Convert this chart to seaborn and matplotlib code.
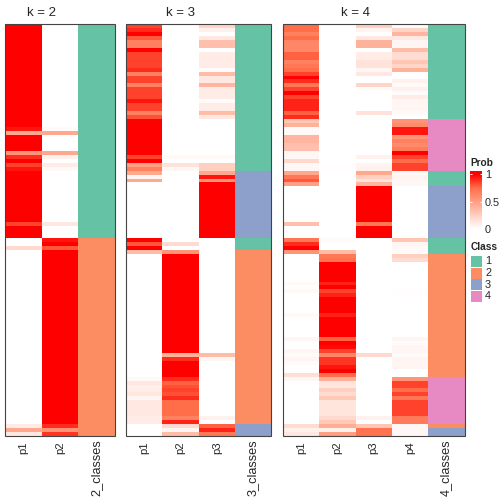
import numpy as np
import pandas as pd
import matplotlib
matplotlib.use('Agg')
import matplotlib.pyplot as plt
import seaborn as sns
from matplotlib.colors import LinearSegmentedColormap, ListedColormap
from matplotlib.patches import Rectangle

k2_p1 = [1, 1, 1, 1, 1, 1, 1, 1, 1, 1,
         1, 1, 1, 1, 1, 1, 1, 1, 1, 1,
         1, 1, 1, 1, 1, 1, .95, .45, 1, 1,
         1, 1, .55, .9, 1, .85, .95, 1, 1, 1,
         1, 1, 1, 1, 1, 1, 1, 1, 1, 1,
         .85, 1, 1, 1, 0, 0, .2, 0, 0, 0,
         0, 0, 0, 0, 0, 0, 0, 0, 0, 0,
         0, 0, 0, 0, 0, 0, 0, 0, 0, 0,
         0, 0, 0, 0, 0, 0, 0, 0, 0, 0,
         0, 0, 0, 0, 0, 0, 0, 0, 0, 0,
         0, .1, .45, .12]
k2_p2 = [0, 0, 0, 0, 0, 0, 0, 0, 0, 0,
         0, 0, 0, 0, 0, 0, 0, 0, 0, 0,
         0, 0, 0, 0, 0, 0, .02, .45, 0, 0,
         0, 0, .45, .08, 0, .1, .03, 0, 0, 0,
         0, 0, 0, 0, 0, 0, 0, 0, 0, 0,
         .12, 0, 0, 0, .95, 1, .8, 1, 1, 1,
         1, 1, 1, 1, 1, 1, 1, 1, 1, 1,
         1, 1, 1, 1, 1, 1, 1, 1, 1, 1,
         1, 1, 1, 1, 1, 1, 1, 1, 1, 1,
         1, 1, 1, 1, 1, 1, 1, 1, 1, 1,
         1, .9, .55, .88]
k2_class = [1, 1, 1, 1, 1, 1, 1, 1, 1, 1,
            1, 1, 1, 1, 1, 1, 1, 1, 1, 1,
            1, 1, 1, 1, 1, 1, 1, 1, 1, 1,
            1, 1, 1, 1, 1, 1, 1, 1, 1, 1,
            1, 1, 1, 1, 1, 1, 1, 1, 1, 1,
            1, 1, 1, 1, 2, 2, 2, 2, 2, 2,
            2, 2, 2, 2, 2, 2, 2, 2, 2, 2,
            2, 2, 2, 2, 2, 2, 2, 2, 2, 2,
            2, 2, 2, 2, 2, 2, 2, 2, 2, 2,
            2, 2, 2, 2, 2, 2, 2, 2, 2, 2,
            2, 2, 2, 2]

k3_p1 = [.85, .9, 1, .8, .65, .65, 1, .85, .85, .85,
         .85, .9, .65, .85, .85, .65, .85, .85, .85, .95,
         .85, .85, .65, .82, 1, 1, 1, 1, 1, 1,
         1, 1, 1, .85, 1, .5, .65, .45, .05, .45,
         0, 0, 0, 0, 0, 0, 0, 0, 0, 0,
         0, 0, 0, 0, 1, .8, 1, .35, 0, 0,
         0, 0, 0, 0, 0, 0, 0, 0, 0, 0,
         0, 0, 0, 0, 0, 0, 0, 0, 0, 0,
         0, 0, 0, 0, 0, 0, 0, 0, 0, .03,
         .13, .08, .1, .13, .05, .12, .12, .12, .12, .1,
         .1, 0, 0, 0]
k3_p2 = [0, 0, 0, 0, 0, 0, 0, 0, 0, 0,
         0, 0, 0, 0, 0, 0, 0, 0, 0, 0,
         0, 0, 0, 0, 0, 0, 0, 0, 0, 0,
         0, 0, 0, .03, 0, .15, .04, 0, 0, 0,
         0, 0, 0, 0, 0, 0, 0, 0, 0, 0,
         0, 0, 0, 0, 0, .18, 0, .55, 1, 1,
         1, 1, 1, 1, 1, 1, 1, 1, 1, 1,
         1, 1, 1, 1, 1, 1, 1, 1, 1, 1,
         1, 1, 1, .4, .9, 1, 1, 1, 1, .9,
         .78, .82, .85, .82, .9, .75, .75, .75, .75, .65,
         .92, .2, .05, .35]
k3_p3 = [.22, .08, 0, .12, .33, .33, 0, .1, .1, .1,
         .1, .02, .35, .12, .12, .38, .1, .1, .1, .02,
         .1, .1, .35, .12, 0, 0, 0, 0, 0, 0,
         0, 0, 0, .03, 0, .25, .25, .45, .95, .55,
         1, 1, 1, 1, 1, 1, 1, 1, 1, 1,
         1, 1, 1, 1, 0, 0, 0, 0, 0, 0,
         0, 0, 0, 0, 0, 0, 0, 0, 0, 0,
         0, 0, 0, 0, 0, 0, 0, 0, 0, 0,
         0, 0, 0, .35, .05, 0, 0, 0, 0, 0,
         0, 0, 0, 0, 0, 0, 0, 0, 0, .07,
         0, .78, .92, .7]
k3_class = [1, 1, 1, 1, 1, 1, 1, 1, 1, 1,
            1, 1, 1, 1, 1, 1, 1, 1, 1, 1,
            1, 1, 1, 1, 1, 1, 1, 1, 1, 1,
            1, 1, 1, 1, 1, 1, 1, 3, 3, 3,
            3, 3, 3, 3, 3, 3, 3, 3, 3, 3,
            3, 3, 3, 3, 1, 1, 1, 2, 2, 2,
            2, 2, 2, 2, 2, 2, 2, 2, 2, 2,
            2, 2, 2, 2, 2, 2, 2, 2, 2, 2,
            2, 2, 2, 2, 2, 2, 2, 2, 2, 2,
            2, 2, 2, 2, 2, 2, 2, 2, 2, 2,
            2, 3, 3, 3]

k4_p1 = [.75, .75, .65, .75, .62, .62, .62, .78, .78, .65,
         .7, .75, .85, 1, .9, .7, .85, 1, .85, .92,
         .92, .92, .78, .9, .3, .4, .03, .03, .38, .38,
         .33, .33, .04, .04, .2, .04, .04, .45, .7, .8,
         .5, 0, 0, 0, 0, 0, 0, 0, 0, 0,
         .33, 0, 0, 0, .7, .9, 1, .55, 0, 0,
         0, 0, 0, 0, 0, .03, 0, .03, 0, 0,
         0, 0, 0, .03, 0, 0, 0, 0, 0, .05,
         0, 0, .05, .02, .05, .02, 0, 0, .17, .04,
         0, 0, 0, 0, 0, 0, 0, 0, 0, 0,
         0, .18, .08, .12]
k4_p2 = [0, 0, 0, 0, 0, 0, 0, 0, 0, 0,
         0, 0, 0, 0, 0, 0, 0, 0, 0, 0,
         0, 0, 0, 0, 0, 0, 0, 0, 0, 0,
         0, 0, 0, 0, 0, .01, .01, 0, 0, 0,
         0, 0, 0, 0, 0, 0, 0, 0, 0, 0,
         0, 0, 0, 0, .02, 0, 0, .35, .7, .72,
         1, 1, 1, 1, 1, .92, 1, .85, .92, 1,
         1, 1, 1, .92, 1, 1, 1, 1, 1, .78,
         1, .98, .85, .62, .88, .88, .95, 1, .75, .42,
         .14, .12, .25, .18, .28, .14, .14, .14, .14, .2,
         .28, .42, .08, .5]
k4_p3 = [.25, .06, 0, .12, .4, .4, 0, .1, .1, .15,
         .15, .05, .12, 0, 0, .22, .02, 0, 0, 0,
         0, 0, .15, 0, 0, 0, 0, 0, 0, 0,
         0, 0, 0, .07, 0, .06, .07, .45, .25, .15,
         .38, 1, 1, 1, 1, 1, 1, 1, 1, 1,
         .7, 1, 1, 1, 0, 0, 0, 0, 0, 0,
         0, 0, 0, 0, 0, 0, 0, 0, 0, 0,
         0, 0, 0, 0, 0, 0, 0, 0, 0, 0,
         0, 0, 0, .2, 0, 0, 0, 0, 0, 0,
         0, 0, 0, 0, 0, 0, 0, 0, 0, .07,
         0, .3, .72, .72]
k4_p4 = [.02, .22, .38, .12, .05, .05, .35, .18, .18, .3,
         .22, .4, .01, .01, .07, .03, .07, .02, .1, .05,
         .05, .05, .03, 0, .55, .6, .95, .95, .55, .65,
         .6, .68, 1, .85, .75, .85, .85, .04, .06, .04,
         .04, 0, 0, 0, 0, 0, 0, 0, 0, 0,
         0, 0, 0, 0, .3, .05, .03, .03, .25, .18,
         0, 0, 0, 0, 0, 0, 0, .01, .01, 0,
         0, 0, 0, 0, 0, 0, 0, 0, 0, .05,
         .02, .05, .05, .02, .06, .05, .05, 0, 0, .55,
         .85, .85, .75, .85, .7, .85, .85, .85, .85, .68,
         .68, .04, .04, .04]
k4_class = [1, 1, 1, 1, 1, 1, 1, 1, 1, 1,
            1, 1, 1, 1, 1, 1, 1, 1, 1, 1,
            1, 1, 1, 1, 4, 4, 4, 4, 4, 4,
            4, 4, 4, 4, 4, 4, 4, 1, 1, 1,
            1, 3, 3, 3, 3, 3, 3, 3, 3, 3,
            3, 3, 3, 3, 1, 1, 1, 1, 2, 2,
            2, 2, 2, 2, 2, 2, 2, 2, 2, 2,
            2, 2, 2, 2, 2, 2, 2, 2, 2, 2,
            2, 2, 2, 2, 2, 2, 2, 2, 2, 4,
            4, 4, 4, 4, 4, 4, 4, 4, 4, 4,
            4, 2, 3, 3]

class_names = ['1', '2', '3', '4']

sns.set_style("white")
plt.rcParams['font.family'] = ['Liberation Sans', 'DejaVu Sans']

prob_cmap = LinearSegmentedColormap.from_list(
    'prob', [(0, '#FFFFFF'), (.25, '#FFCFC0'), (.5, '#FF9E81'), (.75, '#FF6E4A'), (1, '#FF0000')])
class_colors = ['#66C2A5', '#FC8D62', '#8DA0CB', '#E78AC3']
class_cmap = ListedColormap(class_colors)

W, H = 504, 504
fig = plt.figure(figsize=(W / 100, H / 100), dpi=100)
TOP, BOTTOM = 24, 436


def px_axes(x0, x1, y0, y1):
    return fig.add_axes([x0 / W, 1 - y1 / H, (x1 - x0) / W, (y1 - y0) / H])


def draw_panel(title, probs, classes, class_label, x0, x_split, x1):
    ax = px_axes(x0, x_split, TOP, BOTTOM)
    data = pd.DataFrame(probs)
    sns.heatmap(data, ax=ax, cmap=prob_cmap, vmin=0, vmax=1, cbar=False, yticklabels=False)
    ax.set_title(title, fontsize=9.5, pad=6)
    ax.tick_params(axis='x', length=0, pad=4, labelsize=8.2, labelrotation=90)

    ax2 = px_axes(x_split, x1, TOP, BOTTOM)
    sns.heatmap(pd.DataFrame({class_label: classes}), ax=ax2, cmap=class_cmap, vmin=.5, vmax=4.5,
                cbar=False, yticklabels=False)
    ax2.tick_params(axis='x', length=0, pad=2.5, labelsize=9.2, labelrotation=90)

    fig.add_artist(Rectangle((x0 / W, 1 - BOTTOM / H), (x1 - x0) / W, (BOTTOM - TOP) / H,
                             transform=fig.transFigure, fill=False, ec='#444444', lw=.8))


draw_panel('k = 2', {'p1': k2_p1, 'p2': k2_p2}, k2_class, '2_classes', 5.3, 78, 114.7)
draw_panel('k = 3', {'p1': k3_p1, 'p2': k3_p2, 'p3': k3_p3}, k3_class, '3_classes', 126, 235, 271)
draw_panel('k = 4', {'p1': k4_p1, 'p2': k4_p2, 'p3': k4_p3, 'p4': k4_p4}, k4_class, '4_classes', 283, 428, 464.5)

# prob colour bar
cax = px_axes(470, 482, 171.5, 229)
sm = plt.cm.ScalarMappable(cmap=prob_cmap, norm=plt.Normalize(0, 1))
cb = fig.colorbar(sm, cax=cax, ticks=[0, .5, 1])
cb.outline.set_visible(False)
cax.axhspan(1, 1.05, color='#FF0000', lw=0)
cax.set_ylim(0, 1.05)
cax.hlines([.5, 1], 0, .17, color='white', lw=.7)
cax.hlines([.5, 1], .83, 1, color='white', lw=.7)
cax.tick_params(axis='y', length=0, pad=2, labelsize=7.8)
cax.set_yticklabels(['0', '0.5', '1'])

fig.text(470.5 / W, 1 - 163 / H, 'Prob', fontsize=7.3, fontweight='bold', va='center', ha='left')
fig.text(470.5 / W, 1 - 246.5 / H, 'Class', fontsize=7.3, fontweight='bold', va='center', ha='left')

# class legend
for i, name in enumerate(class_names):
    y = 256 + i * 11.5
    fig.add_artist(Rectangle((470.5 / W, 1 - (y + 11) / H), 11 / W, 11 / H, transform=fig.transFigure,
                             fc=class_colors[i], ec='none'))
    fig.text(485 / W, 1 - (y + 5.5) / H, name, fontsize=7.8, va='center', ha='left')

fig.savefig('out.png', dpi=100)
